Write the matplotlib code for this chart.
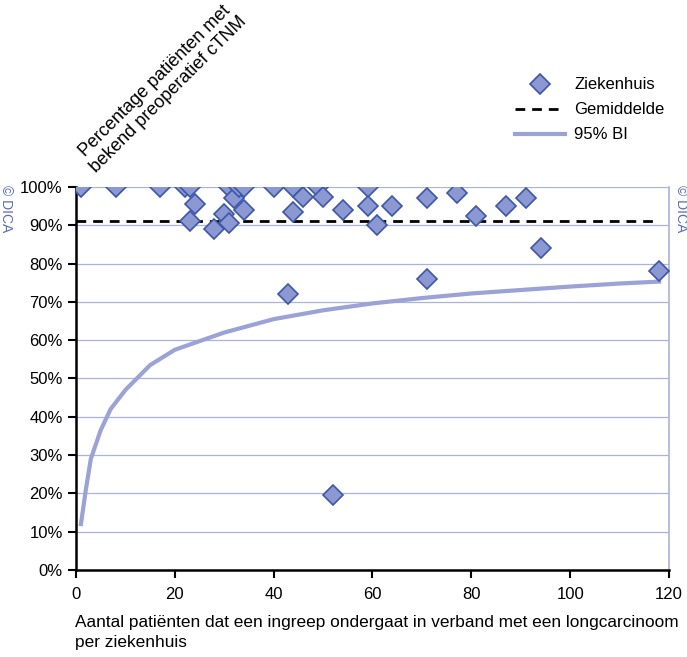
import matplotlib.pyplot as plt
from matplotlib.ticker import MultipleLocator, PercentFormatter

plt.rcParams["font.family"] = ["Liberation Sans", "DejaVu Sans"]

# hospitals: number of patients, percentage with known preoperative cTNM
n_patients = [1, 8, 17, 22, 23, 23, 24, 28, 30, 31, 31, 32, 33, 34, 34, 40, 43, 44,
              44, 46, 49, 50, 52, 54, 59, 59, 61, 64, 71, 71, 77, 81, 87, 91, 94, 118]
pct_known = [100, 100, 100, 100, 100, 91, 95.5, 89, 93, 100, 90.5, 97, 100, 100, 94,
             100, 72, 100, 93.5, 97.5, 100, 97.5, 19.5, 94, 100, 95, 90, 95, 97, 76,
             98.5, 92.5, 95, 97, 84, 78]

mean_pct = 91.1
mean_range = [0, 118]

# lower 95% limit
ci_n = [1, 2, 3, 5, 7, 10, 15, 20, 30, 40, 50, 60, 70, 80, 90, 100, 110, 118]
ci_low = [12, 21, 29, 36.5, 42, 47, 53.5, 57.5, 62, 65.5, 67.8, 69.6, 71, 72.2,
          73.1, 74, 74.8, 75.3]

grid_col = "#aab2de"
ci_col = "#9aa2d6"

fig = plt.figure(figsize=(6.87, 6.57), dpi=100)
ax = fig.add_axes([0.1106, 0.1324, 0.8632, 0.583])

ax.yaxis.grid(True, color=grid_col, lw=0.9)
ax.set_axisbelow(True)

ax.plot(ci_n, ci_low, color=ci_col, lw=3, label="95% BI", zorder=2)
ax.plot(mean_range, [mean_pct, mean_pct], color="black", lw=2, ls=(0, (3.5, 2.5)),
        label="Gemiddelde", zorder=3)
ax.plot(n_patients, pct_known, ls="none", marker="D", ms=10, mfc="#8c98d2",
        mec="#3d57a8", mew=1.2, label="Ziekenhuis", zorder=4)

ax.set_xlim(0, 120)
ax.set_ylim(0, 100)
ax.xaxis.set_major_locator(MultipleLocator(20))
ax.yaxis.set_major_locator(MultipleLocator(10))
ax.yaxis.set_major_formatter(PercentFormatter(decimals=0))
ax.tick_params(labelsize=12, length=6, width=1.5, direction="out", color="black")
ax.tick_params(axis="x", pad=6)

for s in ["left", "bottom"]:
    ax.spines[s].set_linewidth(1.8)
ax.spines["top"].set_visible(False)
ax.spines["right"].set_color(grid_col)
ax.spines["right"].set_linewidth(1.2)

handles, labels = ax.get_legend_handles_labels()
order = [2, 1, 0]
ax.legend([handles[i] for i in order], [labels[i] for i in order],
          loc="upper left", bbox_to_anchor=(0.728, 0.905), bbox_transform=fig.transFigure,
          frameon=False, fontsize=12, handlelength=3, labelspacing=0.6,
          handletextpad=0.55)

fig.text(0.235, 0.866, "Percentage patiënten met\nbekend preoperatief cTNM",
         rotation=45, ha="center", va="center", multialignment="center", fontsize=13)

fig.text(75 / 687, 1 - 615 / 657,
         "Aantal patiënten dat een ingreep ondergaat in verband met een longcarcinoom\n"
         "per ziekenhuis", ha="left", va="top", fontsize=12.4, linespacing=1.45)

for xp in [6 / 687, 681 / 687]:
    fig.text(xp, 1 - 185 / 657, "© DICA", rotation=-90, ha="center", va="top",
             fontsize=10, color="#5a6cb8")

fig.savefig("out.png", dpi=100)
